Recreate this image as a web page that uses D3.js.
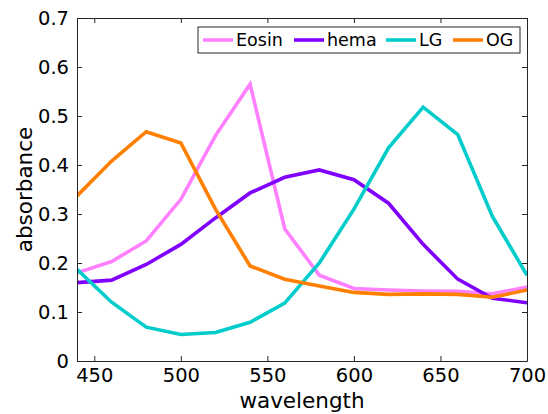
<!DOCTYPE html>
<html>
<head>
<meta charset="utf-8">
<script src="https://cdn.jsdelivr.net/npm/d3@7"></script>
<style>
  html, body { margin: 0; padding: 0; background: #fff; }
  svg { display: block; font-family: "DejaVu Sans", sans-serif; }
</style>
</head>
<body>
<svg id="chart" width="548" height="414"></svg>
<script>
const wavelength = [440, 460, 480, 500, 520, 540, 560, 580, 600, 620, 640, 660, 680, 700];
const eosin = [0.180, 0.203, 0.245, 0.330, 0.460, 0.565, 0.270, 0.175, 0.148, 0.145, 0.143, 0.142, 0.137, 0.151];
const hema  = [0.160, 0.165, 0.197, 0.238, 0.292, 0.343, 0.375, 0.390, 0.370, 0.322, 0.238, 0.167, 0.128, 0.119];
const lg    = [0.187, 0.120, 0.069, 0.054, 0.058, 0.079, 0.118, 0.200, 0.310, 0.435, 0.518, 0.462, 0.295, 0.175];
const og    = [0.337, 0.408, 0.468, 0.445, 0.310, 0.194, 0.167, 0.153, 0.140, 0.136, 0.137, 0.136, 0.130, 0.145];
const seriesNames = ['Eosin', 'hema', 'LG', 'OG'];
const seriesColors = ['#ff80ff', '#8000ff', '#00cccc', '#ff8000'];
const xTicks = [450, 500, 550, 600, 650, 700];
const yTicks = [0, 0.1, 0.2, 0.3, 0.4, 0.5, 0.6, 0.7];

const series = [eosin, hema, lg, og];
const m = { left: 77, right: 21, top: 18, bottom: 53 };
const W = 548, H = 414;
const svg = d3.select('#chart');

const x = d3.scaleLinear().domain([440, 700]).range([m.left, W - m.right]);
const y = d3.scaleLinear().domain([0, 0.7]).range([H - m.bottom, m.top]);

const line = d3.line()
  .x((d, i) => x(wavelength[i]))
  .y(d => y(d));

// clip so lines stay inside the axes box
svg.append('clipPath').attr('id', 'clip')
  .append('rect')
  .attr('x', m.left).attr('y', m.top)
  .attr('width', x.range()[1] - m.left)
  .attr('height', y.range()[0] - m.top);

svg.append('g').attr('clip-path', 'url(#clip)')
  .selectAll('path')
  .data(series)
  .join('path')
  .attr('d', line)
  .attr('fill', 'none')
  .attr('stroke', (d, i) => seriesColors[i])
  .attr('stroke-width', 3.6)
  .attr('stroke-linejoin', 'miter');

// axes (ticks point inward, MATLAB style)
const tickLen = 5;
const xAxis = d3.axisBottom(x).tickValues(xTicks).tickSizeInner(-tickLen).tickSizeOuter(0).tickPadding(7);
const yAxis = d3.axisLeft(y).tickValues(yTicks).tickSizeInner(-tickLen).tickSizeOuter(0).tickPadding(8)
  .tickFormat(d => d === 0 ? '0' : d3.format('.1f')(d));

const gx = svg.append('g').attr('transform', `translate(0,${y(0)})`).call(xAxis);
const gy = svg.append('g').attr('transform', `translate(${m.left},0)`).call(yAxis);
const gxt = svg.append('g').attr('transform', `translate(0,${m.top})`)
  .call(d3.axisTop(x).tickValues(xTicks).tickSizeInner(-tickLen).tickSizeOuter(0).tickFormat(''));
const gyr = svg.append('g').attr('transform', `translate(${x(700)},0)`)
  .call(d3.axisRight(y).tickValues(yTicks).tickSizeInner(-tickLen).tickSizeOuter(0).tickFormat(''));

[gx, gy, gxt, gyr].forEach(g => {
  g.select('.domain').attr('stroke', '#262626').attr('stroke-width', 1);
  g.selectAll('.tick line').attr('stroke', '#262626');
  g.selectAll('.tick text').attr('fill', '#000').style('font-size', '19.5px').style('font-family', '"DejaVu Sans", sans-serif');
});

// axis labels
svg.append('text')
  .attr('x', (x.range()[0] + x.range()[1]) / 2)
  .attr('y', 408)
  .attr('text-anchor', 'middle')
  .style('font-size', '21.5px')
  .text('wavelength');

svg.append('text')
  .attr('transform', `translate(32,${(y.range()[0] + y.range()[1]) / 2}) rotate(-90)`)
  .attr('text-anchor', 'middle')
  .style('font-size', '21.5px')
  .text('absorbance');

// legend
const legend = svg.append('g').attr('transform', 'translate(198,27)');
legend.append('rect')
  .attr('width', 322).attr('height', 26)
  .attr('fill', '#fff').attr('stroke', '#262626').attr('stroke-width', 1);

const legendX = [5, 96, 188, 255];
const items = legend.selectAll('g.item')
  .data(seriesNames)
  .join('g')
  .attr('class', 'item')
  .attr('transform', (d, i) => `translate(${legendX[i]},13)`);
items.append('line')
  .attr('x1', 0).attr('x2', 30)
  .attr('stroke', (d, i) => seriesColors[i])
  .attr('stroke-width', 3.6);
items.append('text')
  .attr('x', 33).attr('dy', '0.36em')
  .style('font-size', '17.5px')
  .text(d => d);
</script>
</body>
</html>
